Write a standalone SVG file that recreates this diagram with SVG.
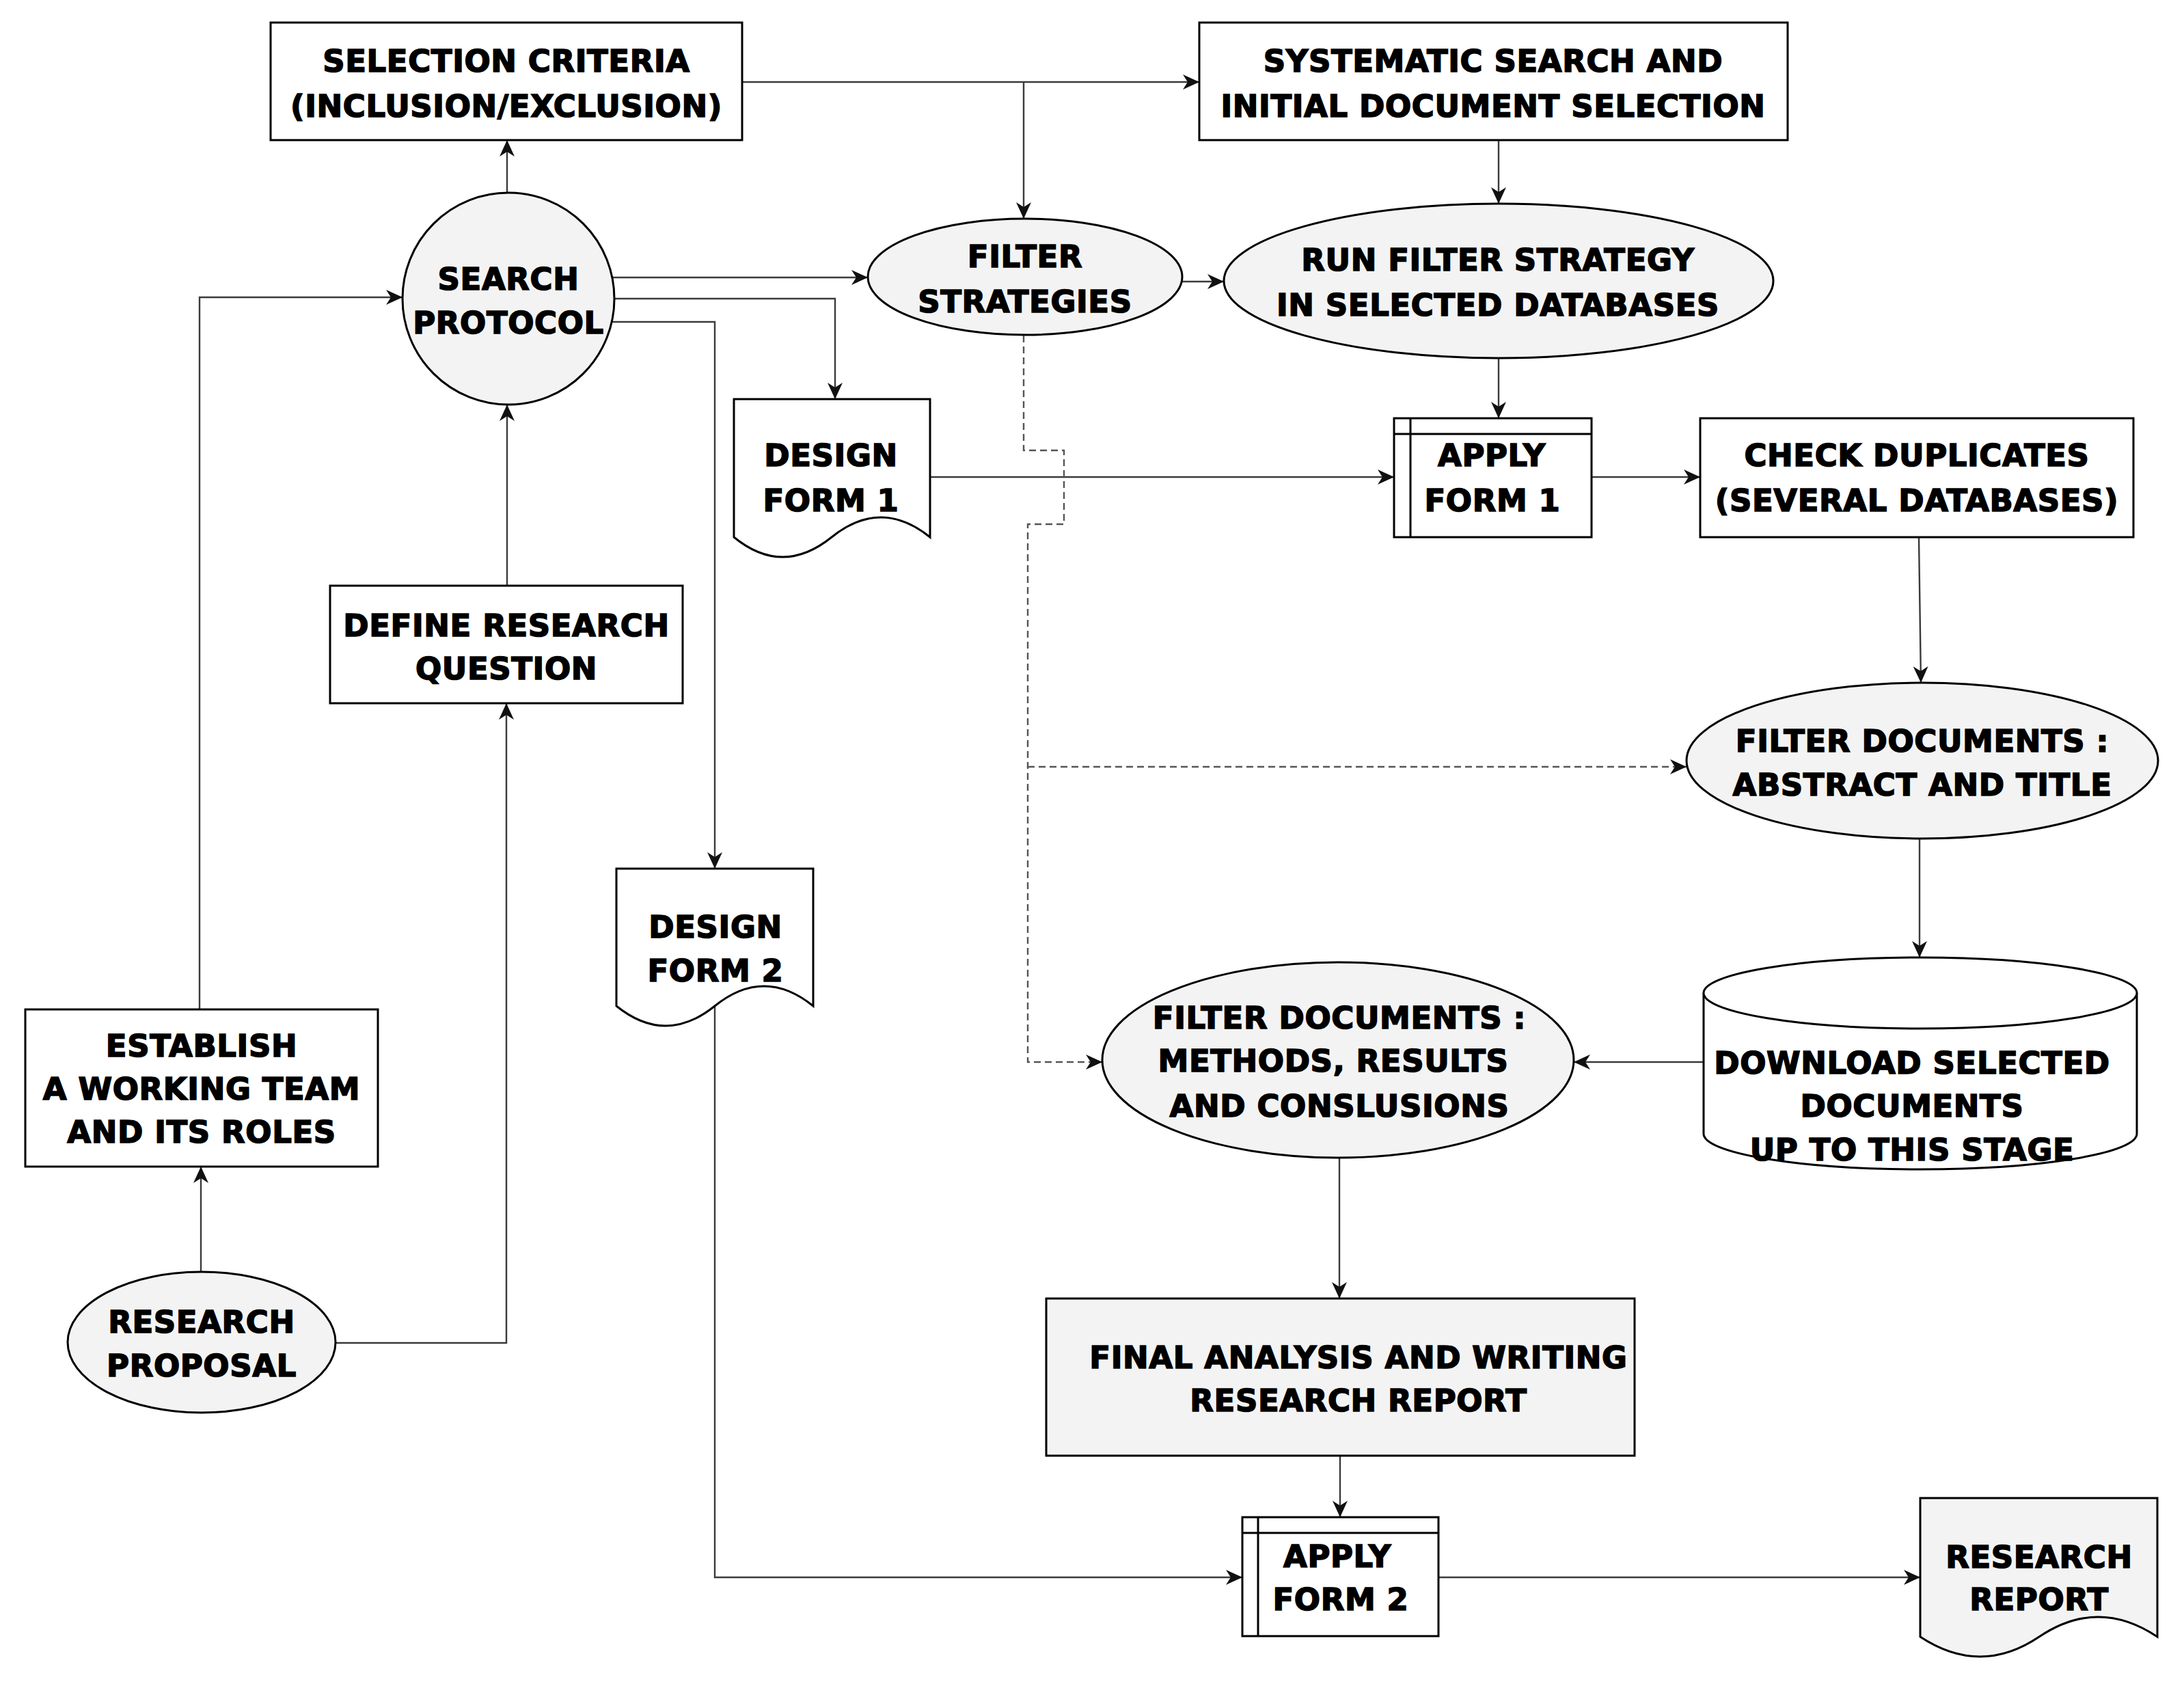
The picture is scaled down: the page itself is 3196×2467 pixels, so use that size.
<svg xmlns="http://www.w3.org/2000/svg" width="3196" height="2467" viewBox="0 0 3196 2467">
<defs>
<style>
.n{stroke:#000;stroke-width:3;fill:#fff}
.g{fill:#f3f3f3}
.c{fill:none;stroke:#3a3a3a;stroke-width:2.4}
.d{fill:none;stroke:#555;stroke-width:2.4;stroke-dasharray:10 6}
text{font-family:"DejaVu Sans","Liberation Sans",Arial,sans-serif;font-weight:bold;font-size:45px;fill:#000;stroke:#000;stroke-width:1.6;letter-spacing:0.6px;text-anchor:middle}
</style>
<marker id="a" markerUnits="userSpaceOnUse" markerWidth="26" markerHeight="24" refX="24" refY="11" orient="auto">
<path d="M0,0 L24,11 L0,22 L7,11 Z" fill="#111"/>
</marker>
</defs>
<rect width="3196" height="2467" fill="#fff"/>
<g id="connectors">
<path class="c" d="M742,282 V205" marker-end="url(#a)"/>
<path class="c" d="M1086,120 H1755" marker-end="url(#a)"/>
<path class="c" d="M1498,120 V320" marker-end="url(#a)"/>
<path class="c" d="M896,406 H1270" marker-end="url(#a)"/>
<path class="c" d="M899,437 H1222 V584" marker-end="url(#a)"/>
<path class="c" d="M895,471 H1046 V1271" marker-end="url(#a)"/>
<path class="c" d="M2193,205 V298" marker-end="url(#a)"/>
<path class="c" d="M1730,412 H1791" marker-end="url(#a)"/>
<path class="c" d="M2193,525 V612" marker-end="url(#a)"/>
<path class="c" d="M1361,698 H2040" marker-end="url(#a)"/>
<path class="c" d="M2329,698 H2488" marker-end="url(#a)"/>
<path class="c" d="M2808,786 L2811,999" marker-end="url(#a)"/>
<path class="c" d="M2809,1227 V1401" marker-end="url(#a)"/>
<path class="c" d="M2493,1554 H2303" marker-end="url(#a)"/>
<path class="d" d="M1498,491 V659 H1557 V767 H1504 V1554 H1613" marker-end="url(#a)"/>
<path class="d" d="M1504,1122 H2468" marker-end="url(#a)"/>
<path class="c" d="M1960,1695 V1900" marker-end="url(#a)"/>
<path class="c" d="M1961,2130 V2220" marker-end="url(#a)"/>
<path class="c" d="M1046,1472 V2308 H1818" marker-end="url(#a)"/>
<path class="c" d="M2105,2308 H2810" marker-end="url(#a)"/>
<path class="c" d="M294,1861 V1707" marker-end="url(#a)"/>
<path class="c" d="M490,1965 H741 V1029" marker-end="url(#a)"/>
<path class="c" d="M742,857 V592" marker-end="url(#a)"/>
<path class="c" d="M292,1477 V435 H589" marker-end="url(#a)"/>
</g>
<g id="selection-criteria">
<rect class="n" x="396" y="33" width="690" height="172"/>
<text x="741" y="105">SELECTION CRITERIA</text>
<text x="741" y="171">(INCLUSION/EXCLUSION)</text>
</g>
<g id="systematic-search">
<rect class="n" x="1755" y="33" width="861" height="172"/>
<text x="2185" y="105">SYSTEMATIC SEARCH AND</text>
<text x="2185" y="171">INITIAL DOCUMENT SELECTION</text>
</g>
<g id="search-protocol">
<ellipse class="n g" cx="744" cy="437" rx="155" ry="155"/>
<text x="744" y="424">SEARCH</text>
<text x="744" y="488">PROTOCOL</text>
</g>
<g id="filter-strategies">
<ellipse class="n g" cx="1500" cy="405" rx="230" ry="85"/>
<text x="1500" y="391">FILTER</text>
<text x="1500" y="457">STRATEGIES</text>
</g>
<g id="run-filter">
<ellipse class="n g" cx="2193" cy="411" rx="402" ry="113"/>
<text x="2192" y="396">RUN FILTER STRATEGY</text>
<text x="2192" y="462">IN SELECTED DATABASES</text>
</g>
<g id="design-form-1">
<path class="n" d="M1074,584 H1361 V786 Q1289,728 1217,786 T1074,786 Z"/>
<text x="1216" y="682">DESIGN</text>
<text x="1216" y="748">FORM 1</text>
</g>
<g id="apply-form-1">
<rect class="n" x="2040" y="612" width="289" height="174"/>
<path class="n" d="M2064,612 V786 M2040,635 H2329"/>
<text x="2183" y="682">APPLY</text>
<text x="2184" y="748">FORM 1</text>
</g>
<g id="check-duplicates">
<rect class="n" x="2488" y="612" width="634" height="174"/>
<text x="2805" y="682">CHECK DUPLICATES</text>
<text x="2805" y="748">(SEVERAL DATABASES)</text>
</g>
<g id="define-question">
<rect class="n" x="483" y="857" width="516" height="172"/>
<text x="741" y="931">DEFINE RESEARCH</text>
<text x="741" y="994">QUESTION</text>
</g>
<g id="filter-abstract">
<ellipse class="n g" cx="2813" cy="1113" rx="345" ry="114"/>
<text x="2813" y="1100">FILTER DOCUMENTS :</text>
<text x="2813" y="1164">ABSTRACT AND TITLE</text>
</g>
<g id="design-form-2">
<path class="n" d="M902,1271 H1190 V1472 Q1118,1414 1046,1472 T902,1472 Z"/>
<text x="1047" y="1372">DESIGN</text>
<text x="1047" y="1436">FORM 2</text>
</g>
<g id="download-documents">
<path class="n" d="M2493,1453 A317,52 0 0 1 3127,1453 V1659 A317,52 0 0 1 2493,1659 Z"/>
<path class="n" fill="none" d="M2493,1453 A317,52 0 0 0 3127,1453"/>
<text x="2798" y="1571">DOWNLOAD SELECTED</text>
<text x="2798" y="1634">DOCUMENTS</text>
<text x="2798" y="1698">UP TO THIS STAGE</text>
</g>
<g id="filter-methods">
<ellipse class="n g" cx="1958" cy="1551" rx="345" ry="143"/>
<text x="1960" y="1505">FILTER DOCUMENTS :</text>
<text x="1951" y="1568">METHODS, RESULTS</text>
<text x="1960" y="1634">AND CONSLUSIONS</text>
</g>
<g id="establish-team">
<rect class="n" x="37" y="1477" width="516" height="230"/>
<text x="295" y="1546">ESTABLISH</text>
<text x="295" y="1609">A WORKING TEAM</text>
<text x="295" y="1672">AND ITS ROLES</text>
</g>
<g id="research-proposal">
<ellipse class="n g" cx="295" cy="1964" rx="196" ry="103"/>
<text x="295" y="1950">RESEARCH</text>
<text x="295" y="2014">PROPOSAL</text>
</g>
<g id="final-analysis">
<rect class="n g" x="1531" y="1900" width="861" height="230"/>
<text x="1988" y="2002">FINAL ANALYSIS AND WRITING</text>
<text x="1988" y="2065">RESEARCH REPORT</text>
</g>
<g id="apply-form-2">
<rect class="n" x="1818" y="2220" width="287" height="174"/>
<path class="n" d="M1841,2220 V2394 M1818,2243 H2105"/>
<text x="1957" y="2293">APPLY</text>
<text x="1962" y="2356">FORM 2</text>
</g>
<g id="research-report">
<path class="n g" d="M2810,2192 H3157 V2395 Q3070,2337 2984,2395 T2810,2395 Z"/>
<text x="2984" y="2294">RESEARCH</text>
<text x="2984" y="2356">REPORT</text>
</g>
</svg>
